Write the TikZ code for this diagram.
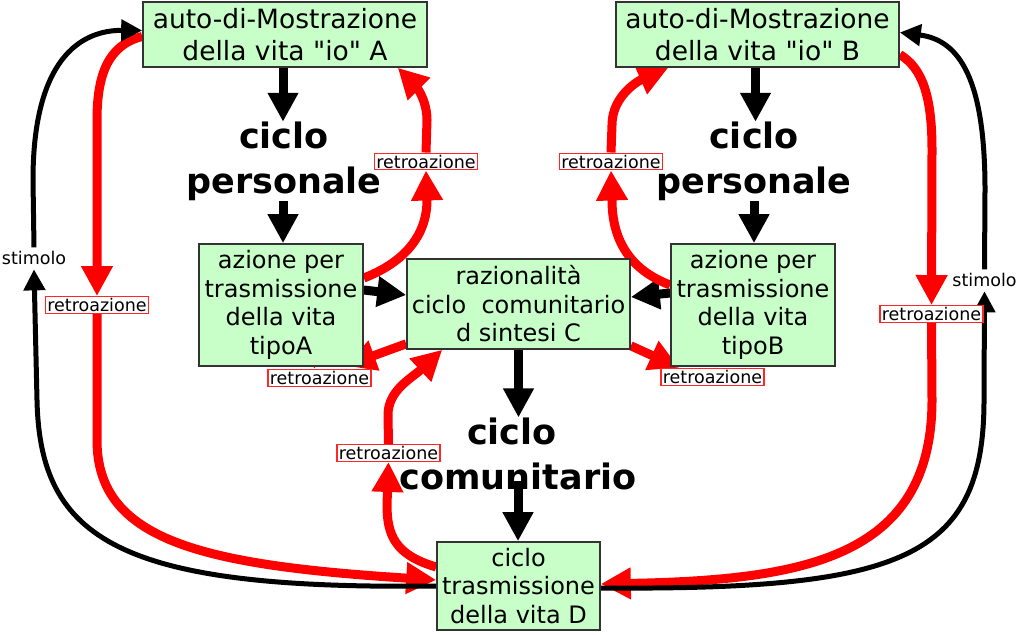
\documentclass[tikz,border=0pt]{standalone}
\usepackage{fontspec}
\setmainfont{DejaVu Sans}[Ligatures=TeXOff]
\usetikzlibrary{arrows.meta}
\definecolor{boxgreen}{RGB}{200,255,200}
\definecolor{boxline}{RGB}{51,51,51}
\pgfdeclarelayer{bg}
\pgfsetlayers{bg,main}
\tikzset{
 gbox/.style={draw=boxline, line width=1.6pt, fill=boxgreen, align=center, inner sep=0pt},
 topfont/.style={font=\fontsize{26.5}{32}\selectfont},
 midfont/.style={font=\fontsize{24}{28.5}\selectfont},
 cyc/.style={font=\fontsize{35}{45}\selectfont\bfseries, align=center, inner sep=0pt},
 retro/.style={draw=red!85!white, line width=1.4pt, fill=white, inner xsep=2pt, inner ysep=1.5pt, font=\fontsize{17.5}{18}\selectfont},
 stim/.style={inner xsep=0pt, inner ysep=4pt, font=\fontsize{17.5}{18}\selectfont},
 blk/.style={line width=9pt, -{Triangle[length=29pt,width=29pt]}},
 redarr/.style={draw=red, line width=9pt, -{Triangle[length=30pt,width=30pt]}},
 thinarr/.style={line width=5pt, -{Triangle[length=21pt,width=21pt]}},
}
\begin{document}
\begin{tikzpicture}[x=1pt,y=-1pt]
\useasboundingbox (0,0) rectangle (1024,634);
% boxes
\node[gbox, topfont, minimum width=284pt, minimum height=65pt] (A) at (285,34.5) {auto-di-Mostrazione\\della vita "io" A};
\node[gbox, topfont, minimum width=283pt, minimum height=65pt] (B) at (757.5,34.5) {auto-di-Mostrazione\\della vita "io" B};
\node[gbox, midfont, minimum width=164pt, minimum height=122pt] (azA) at (281,305) {azione per\\trasmissione\\della vita\\tipoA};
\node[gbox, midfont, minimum width=164pt, minimum height=122pt] (azB) at (753,305) {azione per\\trasmissione\\della vita\\tipoB};
\node[gbox, midfont, minimum width=223pt, minimum height=90pt] (C) at (518.5,304) {razionalità\\ciclo\ \ comunitario\\d sintesi C};
\node[gbox, midfont, minimum width=163pt, minimum height=88pt] (D) at (518.5,586) {ciclo\\trasmissione\\della vita D};
% cycle labels
\node[cyc] (cpA) at (284,161.4) {ciclo\\personale};
\node[cyc] (cpB) at (754,161.4) {ciclo\\personale};
\node[cyc] (cc) at (518,453.7) {ciclo\kern12pt\\comunitario};
% retroazione labels
\node[retro] (rL) at (97,305) {retroazione};
\node[retro] (rR) at (931.5,314) {retroazione};
\node[retro] (rT1) at (426,161.5) {retroazione};
\node[retro] (rT2) at (611,161.5) {retroazione};
\node[retro] (rA1) at (319.5,378) {retroazione};
\node[retro] (rB1) at (712.5,377) {retroazione};
\node[retro] (rM) at (388.5,453) {retroazione};
% stimolo labels
\node[stim] (sL) at (34,258.4) {stimolo};
\node[stim] (sR) at (984.5,280.3) {stimolo};
\coordinate (tA) at ([xshift=-5pt]rA1.north);
\coordinate (tB) at ([xshift=3pt]rB1.north);
\begin{pgfonlayer}{bg}
% black thick arrows
\draw[blk] ([xshift=-2pt]A.south) -- ([xshift=-2pt]A.south |- cpA.north);
\draw[blk] ([xshift=-1pt]cpA.south) -- ([xshift=-1pt]cpA.south |- azA.north);
\draw[blk] ([xshift=-2pt]B.south) -- ([xshift=-2pt]B.south |- cpB.north);
\draw[blk] (cpB.south) -- (cpB.south |- azB.north);
\draw[blk] ([yshift=15pt]azA.east) -- ([yshift=9pt]C.west);
\draw[blk] ([yshift=12pt]azB.west) -- ([yshift=7pt]C.east);
\draw[blk] (C.south) -- (C.south |- cc.north);
\draw[blk] ([yshift=9pt]cc.south) -- (cc.south |- D.north);
% outer left
\draw[redarr] ([yshift=-2pt]A.west) .. controls (108,45) and (97,75) .. (97,120) -- (rL.north);
\draw[redarr] (rL.south) -- (97,440) .. controls (97,540) and (200,565) .. ([yshift=6pt]D.west);
\draw[thinarr] (D.west) .. controls (120,590) and (40,540) .. (37,400) -- (sL.south);
\draw[thinarr] (sL.north) -- (33,180) .. controls (33,60) and (80,30) .. ([yshift=4pt]A.west);
% outer right
\draw[redarr] ([yshift=-20pt]B.east) .. controls (922,68) and (932,95) .. (932,150) -- (rR.north);
\draw[redarr] (rR.south) -- (932,400) .. controls (932,560) and (800,580) .. ([yshift=2pt]D.east);
\draw[thinarr] ([yshift=-2pt]D.east) .. controls (900,590) and (984,560) .. (984,400) -- (sR.south);
\draw[thinarr] (sR.north) -- (985,190) .. controls (985,80) and (960,40) .. ([yshift=2pt]B.east);
% inner loops
\draw[redarr] ([yshift=27pt]azA.east) .. controls (405,262) and (427,235) .. (427,200) -- (rT1.south);
\draw[redarr] (rT1.north) -- (427,120) .. controls (427,95) and (410,80) .. ([xshift=-30pt]A.south east);
\draw[redarr] ([yshift=20pt]azB.west) .. controls (630,270) and (612,240) .. (612,200) -- (rT2.south);
\draw[redarr] (rT2.north) -- (612,125) .. controls (612,95) and (640,80) .. ([xshift=53pt]B.south west);
\draw[redarr] ([yshift=6pt]C.south west) -- ([xshift=-18pt,yshift=1pt]azA.south east);
\draw[redarr] (tA |- azA.center) -- (tA);
\draw[redarr] ([yshift=4pt]C.south east) -- ([xshift=9pt,yshift=-1pt]azB.south west);
\draw[redarr] (tB |- azB.center) -- (tB);
\draw[redarr] ([yshift=19pt]D.west) .. controls (395,555) and (387,535) .. (387,505) -- (rM.south);
\draw[redarr] (rM.north) -- (388,415) .. controls (388,390) and (412,378) .. ([xshift=36pt]C.south west);
\end{pgfonlayer}
\end{tikzpicture}
\end{document}
